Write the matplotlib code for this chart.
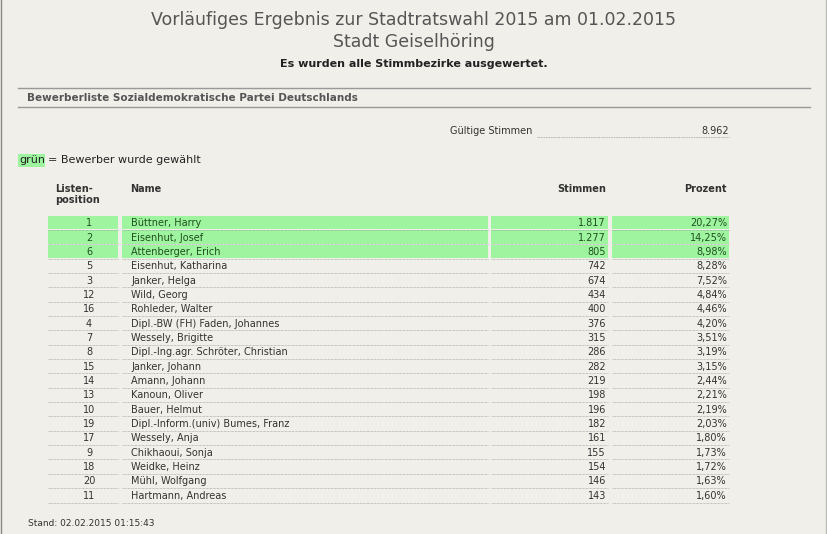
import matplotlib
matplotlib.use('Agg')
import matplotlib.pyplot as plt
from matplotlib.patches import Rectangle

positions = [1, 2, 6, 5, 3, 12, 16, 4, 7, 8, 15, 14, 13, 10, 19, 17, 9, 18, 20, 11]
names = ['Büttner, Harry', 'Eisenhut, Josef', 'Attenberger, Erich', 'Eisenhut, Katharina',
         'Janker, Helga', 'Wild, Georg', 'Rohleder, Walter', 'Dipl.-BW (FH) Faden, Johannes',
         'Wessely, Brigitte', 'Dipl.-Ing.agr. Schröter, Christian', 'Janker, Johann',
         'Amann, Johann', 'Kanoun, Oliver', 'Bauer, Helmut', 'Dipl.-Inform.(univ) Bumes, Franz',
         'Wessely, Anja', 'Chikhaoui, Sonja', 'Weidke, Heinz', 'Mühl, Wolfgang', 'Hartmann, Andreas']
votes = ['1.817', '1.277', '805', '742', '674', '434', '400', '376', '315', '286',
         '282', '219', '198', '196', '182', '161', '155', '154', '146', '143']
percent = ['20,27%', '14,25%', '8,98%', '8,28%', '7,52%', '4,84%', '4,46%', '4,20%', '3,51%', '3,19%',
           '3,15%', '2,44%', '2,21%', '2,19%', '2,03%', '1,80%', '1,73%', '1,72%', '1,63%', '1,60%']
elected = 3

bg = '#f0efe9'
green = '#9ff59f'
txt = '#333333'

fig = plt.figure(figsize=(8.28, 5.34), dpi=100, facecolor=bg)
ax = fig.add_axes([0, 0, 1, 1])
ax.set_xlim(0, 828)
ax.set_ylim(534, 0)
ax.axis('off')
ax.set_facecolor(bg)

ax.plot([1, 1], [0, 534], color='#888888', lw=1)
ax.plot([826, 826], [0, 534], color='#bbbbbb', lw=1)

ax.text(414, 20, 'Vorläufiges Ergebnis zur Stadtratswahl 2015 am 01.02.2015',
        ha='center', va='center', fontsize=12.5, color='#555555')
ax.text(414, 42, 'Stadt Geiselhöring', ha='center', va='center', fontsize=12.5, color='#555555')
ax.text(414, 64, 'Es wurden alle Stimmbezirke ausgewertet.', ha='center', va='center',
        fontsize=8, fontweight='bold', color='#222222')

ax.plot([18, 810], [88, 88], color='#999999', lw=1)
ax.plot([18, 810], [107, 107], color='#999999', lw=1)
ax.text(27, 98, 'Bewerberliste Sozialdemokratische Partei Deutschlands', ha='left', va='center',
        fontsize=7.5, fontweight='bold', color='#555555')

ax.text(450, 131, 'Gültige Stimmen', ha='left', va='center', fontsize=7, color=txt)
ax.plot([537, 729], [137, 137], color='#999999', lw=0.6, ls=(0, (1, 1)))
ax.text(729, 131, '8.962', ha='right', va='center', fontsize=7, color=txt)

ax.add_patch(Rectangle((18, 154), 27, 13, color=green, lw=0))
ax.text(19, 160, 'grün', ha='left', va='center', fontsize=8, color='#222222')
ax.text(48, 160, '= Bewerber wurde gewählt', ha='left', va='center', fontsize=8, color='#222222')

hdr = dict(fontsize=7, fontweight='bold', color='#333333', va='top')
ax.text(55, 184, 'Listen-\nposition', ha='left', linespacing=1.1, **hdr)
ax.text(130, 184, 'Name', ha='left', **hdr)
ax.text(606, 184, 'Stimmen', ha='right', **hdr)
ax.text(727, 184, 'Prozent', ha='right', **hdr)

cols = [(48, 118), (122, 488), (491, 608), (612, 729)]
y0, h = 216, 14.35
for i in range(len(positions)):
    top = y0 + i * h
    yc = top + h / 2
    for (a, b) in cols:
        if i < elected:
            ax.add_patch(Rectangle((a, top), b - a, h - 1, color=green, lw=0))
        ax.plot([a, b], [top + h - 0.5, top + h - 0.5], color='#999999', lw=0.5, ls=(0, (1, 1)))
    c = '#1f4f1f' if i < elected else txt
    ax.text(89, yc, str(positions[i]), ha='center', va='center', fontsize=7, color=c)
    ax.text(131, yc, names[i], ha='left', va='center', fontsize=7, color=c)
    ax.text(606, yc, votes[i], ha='right', va='center', fontsize=7, color=c)
    ax.text(727, yc, percent[i], ha='right', va='center', fontsize=7, color=c)

ax.text(28, 524, 'Stand: 02.02.2015 01:15:43', ha='left', va='center', fontsize=6.5, color=txt)

fig.savefig('out.png', dpi=100, facecolor=bg)
